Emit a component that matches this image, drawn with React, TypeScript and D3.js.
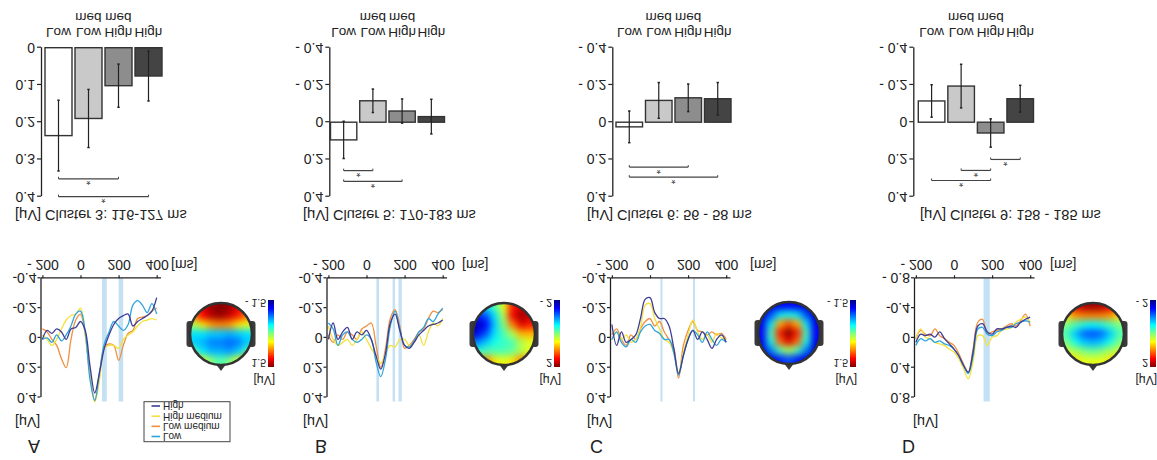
import React, { useEffect, useRef } from 'react';
import * as d3 from 'd3';

const W = 1157;
const H = 460;
const FONT = '"Liberation Sans", Arial, Helvetica, sans-serif';

// conditions, in bar order
const conditions = ['Low', 'Low medium', 'High medium', 'High'];
const barLabelTop = ['Low', 'Low', 'High', 'High'];
const barLabelBottom = ['', 'med', 'med', ''];
const barColors = ['#ffffff', '#c9c9c9', '#8d8d8d', '#444444'];

const panelLetters = ['A', 'B', 'C', 'D'];
const clusterTitles = [
  '[μV] Cluster 3: 116-127 ms',
  '[μV] Cluster 5: 170-183 ms',
  '[μV] Cluster 6: 56 - 58 ms',
  '[μV] Cluster 9: 158 - 185 ms',
];

// bar charts: mean amplitude and error per condition
const barMeansA = [0.236, 0.19, 0.102, 0.076];
const barErrorsA = [0.095, 0.078, 0.058, 0.067];
const barMeansB = [0.095, -0.115, -0.06, -0.03];
const barErrorsB = [0.1, 0.063, 0.065, 0.093];
const barMeansC = [0.025, -0.117, -0.131, -0.126];
const barErrorsC = [0.085, 0.096, 0.074, 0.087];
const barMeansD = [-0.114, -0.194, 0.058, -0.126];
const barErrorsD = [0.087, 0.117, 0.076, 0.072];

// significance brackets (condition index pairs, level in µV)
const sigA = [{ from: 0, to: 2, level: 0.352 }, { from: 0, to: 3, level: 0.4 }];
const sigB = [{ from: 0, to: 1, level: 0.26 }, { from: 0, to: 2, level: 0.318 }];
const sigC = [{ from: 0, to: 2, level: 0.241 }, { from: 0, to: 3, level: 0.295 }];
const sigD = [
  { from: 2, to: 3, level: 0.2 },
  { from: 1, to: 2, level: 0.259 },
  { from: 0, to: 2, level: 0.313 },
];

const barTicksA = [0, 0.1, 0.2, 0.3, 0.4];
const barTickLabelsA = ['0', '0.1', '0.2', '0.3', '0.4'];
const barTicks = [-0.4, -0.2, 0, 0.2, 0.4];
const barTickLabels = ['- 0.4', '- 0.2', '0', '0.2', '0.4'];

// ERP waveforms, sampled every 25 ms
const times = [-200, -175, -150, -125, -100, -75, -50, -25, 0, 25, 50, 75, 100, 125, 150, 175, 200, 225, 250, 275, 300, 325, 350, 375, 400];

const erpA_high = [0.01, -0.05, -0.03, -0.06, -0.04, 0.01, -0.06, -0.07, -0.11, -0.05, 0.19, 0.37, 0.23, 0.07, -0.02, -0.09, -0.13, -0.15, -0.16, -0.08, -0.11, -0.13, -0.15, -0.18, -0.27];
const erpA_highMed = [-0.02, 0.01, 0.05, 0.01, -0.06, -0.12, -0.15, -0.16, -0.2, -0.02, 0.25, 0.43, 0.28, 0.07, 0.05, 0.05, 0.07, 0.01, -0.02, -0.04, -0.08, -0.11, -0.12, -0.13, -0.12];
const erpA_lowMed = [-0.06, -0.04, 0.01, 0.05, 0.14, 0.2, 0.01, -0.12, -0.16, -0.02, 0.25, 0.42, 0.25, 0.06, 0.04, 0.05, 0.15, 0.05, -0.03, -0.05, -0.13, -0.14, -0.15, -0.18, -0.2];
const erpA_low = [0.01, 0, 0.03, -0.02, 0.02, -0.02, -0.08, -0.16, -0.18, -0.04, 0.28, 0.42, 0.23, 0.04, -0.04, -0.11, -0.08, -0.05, -0.09, -0.22, -0.25, -0.22, -0.17, -0.23, -0.16];

const erpB_high = [0.01, -0.1, 0.01, -0.04, -0.07, 0.01, -0.04, -0.02, -0.05, 0.01, 0.12, 0.21, 0.1, -0.1, -0.16, -0.05, 0.05, 0.07, 0.03, -0.02, -0.05, -0.08, -0.09, -0.1, -0.12];
const erpB_highMed = [-0.08, 0.01, 0.05, 0.03, 0.01, 0.05, 0.01, -0.04, 0.01, 0.07, 0.12, 0.17, 0.1, 0.05, 0.06, 0.01, 0.01, 0.05, 0.03, -0.02, 0.05, -0.04, -0.1, -0.08, -0.13];
const erpB_lowMed = [-0.02, 0.03, -0.02, 0.01, -0.04, -0.02, 0.01, -0.06, -0.08, -0.1, 0.05, 0.2, 0.07, -0.13, -0.19, -0.08, 0.07, 0.05, 0.01, -0.04, -0.06, -0.13, -0.18, -0.17, -0.19];
const erpB_low = [-0.1, -0.06, 0.05, -0.02, -0.04, 0.01, 0.03, 0.01, -0.02, 0.01, 0.16, 0.26, 0.14, -0.08, -0.18, -0.06, 0.05, 0.06, 0.02, -0.04, -0.07, -0.13, -0.11, -0.16, -0.2];

const erpC_high = [-0.09, 0.05, -0.04, 0.03, 0.01, -0.02, -0.13, -0.26, -0.27, -0.17, -0.13, -0.13, -0.08, 0.07, 0.24, 0.12, 0.01, -0.05, 0.01, -0.04, 0.01, 0.07, 0.01, -0.02, 0.03];
const erpC_highMed = [0.01, -0.04, 0.01, -0.02, 0.03, 0.01, -0.07, -0.22, -0.23, -0.13, -0.06, 0.01, 0.03, 0.1, 0.23, 0.1, -0.02, -0.12, -0.04, 0.01, -0.02, 0.03, -0.03, 0, 0.01];
const erpC_lowMed = [-0.02, -0.06, 0.01, 0.05, -0.02, 0.01, -0.06, -0.11, -0.13, -0.08, -0.11, -0.04, 0.01, 0.07, 0.27, 0.05, -0.05, -0.11, -0.05, -0.04, -0.02, -0.04, -0.02, -0.03, 0.01];
const erpC_low = [0.01, -0.04, 0.03, 0.06, 0.01, 0.03, -0.04, -0.08, -0.09, -0.05, -0.03, 0.01, 0.01, 0.1, 0.25, 0.12, 0.01, -0.05, -0.02, 0.03, -0.04, 0.01, 0.05, 0.01, 0.03];

const erpD_high = [0.06, -0.05, -0.03, -0.05, -0.01, -0.08, 0.01, 0.08, 0.15, 0.24, 0.37, 0.46, 0.19, -0.16, -0.19, -0.08, -0.05, -0.12, -0.12, -0.14, -0.16, -0.14, -0.21, -0.25, -0.28];
const erpD_highMed = [0.01, -0.12, -0.01, 0.01, 0.06, 0.08, 0.1, 0.15, 0.19, 0.28, 0.41, 0.55, 0.32, -0.03, -0.03, 0.1, -0.01, -0.03, -0.1, -0.12, -0.14, -0.21, -0.25, -0.28, -0.21];
const erpD_lowMed = [0.01, -0.1, -0.05, -0.03, -0.12, -0.03, 0.01, 0.06, 0.1, 0.21, 0.35, 0.46, 0.15, -0.21, -0.25, -0.05, -0.08, -0.1, -0.12, -0.16, -0.19, -0.16, -0.23, -0.32, -0.16];
const erpD_low = [0.1, 0.01, 0.04, 0.01, 0.06, 0.04, 0.08, 0.1, 0.15, 0.24, 0.37, 0.48, 0.24, -0.12, -0.14, -0.05, -0.03, -0.08, -0.1, -0.14, -0.14, -0.19, -0.21, -0.23, -0.21];

// shaded cluster windows (ms)
const bandsA = [[113, 138], [200, 224]];
const bandsB = [[52, 66], [137, 150], [168, 185]];
const bandsC = [[55, 60], [226, 232]];
const bandsD = [[155, 188]];

const erpXTicks = [-200, 0, 200, 400];
const erpXTickLabels = ['- 200', '0', '200', '400'];
const erpYTicks = [-0.4, -0.2, 0, 0.2, 0.4];
const erpYTickLabels = ['-0.4', '-0.2', '0', '0.2', '0.4'];
const erpYTicksD = [-0.8, -0.4, 0, 0.4, 0.8];
const erpYTickLabelsD = ['- 0.8', '-0.4', '0', '0.4', '0.8'];

// legend names, same order as the ERP series
const legendNames = ['High', 'High medium', 'Low medium', 'Low'];
const traceColors = ['#3d3d96', '#f3e23c', '#f0903f', '#2ea4dc'];

// scalp maps: 7x7 grids, colour-bar units (-1..1), rows listed chin side first
const topoA = [
  [0.6, 0.8, 0.95, 1.0, 0.95, 0.8, 0.6],
  [0.5, 0.75, 0.9, 0.95, 0.85, 0.7, 0.5],
  [0.1, 0.3, 0.45, 0.5, 0.45, 0.3, 0.2],
  [-0.3, -0.3, -0.35, -0.35, -0.4, -0.35, -0.3],
  [-0.35, -0.4, -0.5, -0.5, -0.55, -0.5, -0.35],
  [-0.1, -0.3, -0.4, -0.4, -0.45, -0.35, -0.1],
  [0.5, 0.2, 0.0, -0.1, 0.0, 0.2, 0.5],
];
const topoB = [
  [-0.4, -0.3, -0.1, 0.2, 0.7, 0.85, 0.8],
  [-0.7, -0.6, -0.3, 0.1, 0.75, 0.95, 0.85],
  [-0.9, -0.75, -0.35, 0.0, 0.5, 0.8, 0.7],
  [-0.8, -0.6, -0.3, -0.1, 0.1, 0.4, 0.4],
  [-0.5, -0.35, -0.2, -0.15, -0.1, 0.1, 0.2],
  [-0.2, -0.1, -0.1, -0.1, -0.05, 0.1, 0.2],
  [0.3, 0.5, 0.3, 0.2, 0.3, 0.5, 0.4],
];
const topoC = [
  [-0.9, -0.85, -0.8, -0.75, -0.8, -0.85, -0.9],
  [-0.85, -0.6, -0.3, -0.2, -0.3, -0.6, -0.85],
  [-0.8, -0.3, 0.4, 0.6, 0.4, -0.3, -0.8],
  [-0.75, -0.1, 0.7, 1.0, 0.7, -0.1, -0.75],
  [-0.8, -0.2, 0.55, 0.8, 0.55, -0.2, -0.8],
  [-0.85, -0.5, -0.1, 0.1, -0.1, -0.5, -0.85],
  [-0.9, -0.85, -0.7, -0.6, -0.7, -0.85, -0.9],
];
const topoD = [
  [0.6, 0.8, 0.9, 0.95, 0.9, 0.8, 0.6],
  [0.3, 0.45, 0.5, 0.5, 0.5, 0.45, 0.3],
  [0.0, -0.1, -0.2, -0.25, -0.2, -0.1, 0.0],
  [-0.1, -0.35, -0.55, -0.6, -0.55, -0.35, -0.1],
  [0.0, -0.2, -0.35, -0.4, -0.35, -0.2, 0.0],
  [0.15, 0.1, 0.0, -0.05, 0.0, 0.1, 0.15],
  [0.4, 0.3, 0.2, 0.2, 0.2, 0.3, 0.4],
];
const colorbarLabels = [['- 1.5', '1.5'], ['- 2', '2'], ['- 1.5', '1.5'], ['- 2', '2']];

const panels = [
  { means: barMeansA, errors: barErrorsA, sig: sigA, bt: barTicksA, btl: barTickLabelsA, bdom: [0, 0.4],
    erp: [erpA_high, erpA_highMed, erpA_lowMed, erpA_low], bands: bandsA, yt: erpYTicks, ytl: erpYTickLabels, edom: [-0.4, 0.4], topo: topoA },
  { means: barMeansB, errors: barErrorsB, sig: sigB, bt: barTicks, btl: barTickLabels, bdom: [-0.4, 0.4],
    erp: [erpB_high, erpB_highMed, erpB_lowMed, erpB_low], bands: bandsB, yt: erpYTicks, ytl: erpYTickLabels, edom: [-0.4, 0.4], topo: topoB },
  { means: barMeansC, errors: barErrorsC, sig: sigC, bt: barTicks, btl: barTickLabels, bdom: [-0.4, 0.4],
    erp: [erpC_high, erpC_highMed, erpC_lowMed, erpC_low], bands: bandsC, yt: erpYTicks, ytl: erpYTickLabels, edom: [-0.4, 0.4], topo: topoC },
  { means: barMeansD, errors: barErrorsD, sig: sigD, bt: barTicks, btl: barTickLabels, bdom: [-0.4, 0.4],
    erp: [erpD_high, erpD_highMed, erpD_lowMed, erpD_low], bands: bandsD, yt: erpYTicksD, ytl: erpYTickLabelsD, edom: [-0.8, 0.8], topo: topoD },
];

// layout (the whole figure is drawn upright, then mirrored vertically)
const layout = [
  { barAxisX: 41, barX0: 45, barX1: 162, titleX: 15, erpX0: 40.5, msX: 171, uvX: 15, letterX: 28, topoX: 221, topoY: 126, cbarX: 268 },
  { barAxisX: 329.3, barX0: 330.5, barX1: 444.5, titleX: 303, erpX0: 326.5, msX: 462, uvX: 303, letterX: 315, topoX: 504, topoY: 126, cbarX: 554 },
  { barAxisX: 612.3, barX0: 616, barX1: 731, titleX: 587, erpX0: 610, msX: 750, uvX: 587, letterX: 590, topoX: 789, topoY: 127, cbarX: 850 },
  { barAxisX: 913.3, barX0: 918.3, barX1: 1033.5, titleX: 920, erpX0: 914, msX: 1050, uvX: 913, letterX: 902, topoX: 1093, topoY: 126, cbarX: 1150 },
];

const App = () => {
  const svgRef = useRef<SVGSVGElement>(null);

  useEffect(() => {
    document.body.style.margin = '0';
    const svg = d3.select(svgRef.current);
    svg.selectAll('*').remove();
    const defs = svg.append('defs');

    const root = svg.append('g')
      .attr('transform', `translate(0,${H}) scale(1,-1)`)
      .style('font-family', FONT);

    const jet = d3.scaleLinear<string>()
      .domain([-1, -0.75, -0.25, 0.25, 0.75, 1])
      .range(['#00007f', '#0000ff', '#00ffff', '#ffff00', '#ff0000', '#7f0000'])
      .clamp(true);

    const smooth = defs.append('filter').attr('id', 'smooth')
      .attr('x', '-20%').attr('y', '-20%').attr('width', '140%').attr('height', '140%')
      .attr('color-interpolation-filters', 'sRGB');
    smooth.append('feGaussianBlur').attr('stdDeviation', 3.8);
    smooth.append('feComponentTransfer').append('feFuncA').attr('type', 'table').attr('tableValues', '1 1');

    const cbarGrad = defs.append('linearGradient').attr('id', 'jetbar')
      .attr('x1', 0).attr('y1', 1).attr('x2', 0).attr('y2', 0);
    d3.range(-1, 1.001, 0.125).forEach(v => {
      cbarGrad.append('stop').attr('offset', (v + 1) / 2).attr('stop-color', jet(v));
    });

    const styleAxis = (g: any, size: number) => {
      g.attr('font-family', FONT);
      g.select('.domain').attr('stroke', '#222').attr('stroke-width', 1.3);
      g.selectAll('.tick line').attr('stroke', '#222').attr('stroke-width', 1.2);
      g.selectAll('.tick text').attr('fill', '#222').style('font-size', `${size}px`);
    };

    panels.forEach((p, i) => {
      const L = layout[i];

      // ---------- bar chart ----------
      const y = d3.scaleLinear().domain(p.bdom).range([412.3, 263.3]);
      const x = d3.scaleBand<number>().domain([0, 1, 2, 3]).range([L.barX0, L.barX1]).paddingInner(0.1);
      const bars = root.append('g');

      bars.append('g')
        .attr('transform', `translate(${L.barAxisX},0)`)
        .call(d3.axisLeft(y).tickValues(p.bt).tickFormat((d, k) => p.btl[k]).tickSize(4).tickSizeOuter(0).tickPadding(2))
        .call(g => styleAxis(g, 14));

      bars.selectAll('rect.bar')
        .data(p.means)
        .enter().append('rect')
        .attr('class', 'bar')
        .attr('x', (d, k) => x(k)!)
        .attr('y', d => Math.min(y(0), y(d)))
        .attr('width', x.bandwidth())
        .attr('height', d => Math.abs(y(d) - y(0)))
        .attr('fill', (d, k) => barColors[k])
        .attr('stroke', '#333')
        .attr('stroke-width', 1.4);

      const cx = (k: number) => x(k)! + x.bandwidth() / 2;
      p.means.forEach((m, k) => {
        const e = p.errors[k];
        bars.append('line').attr('x1', cx(k)).attr('x2', cx(k))
          .attr('y1', y(m - e)).attr('y2', y(m + e))
          .attr('stroke', '#222').attr('stroke-width', 1.2);
        [m - e, m + e].forEach(v => {
          bars.append('line').attr('x1', cx(k) - 1.2).attr('x2', cx(k) + 1.2)
            .attr('y1', y(v)).attr('y2', y(v)).attr('stroke', '#222').attr('stroke-width', 1.5);
        });
      });

      p.sig.forEach(s => {
        const yy = y(s.level);
        bars.append('line').attr('x1', cx(s.from)).attr('x2', cx(s.to))
          .attr('y1', yy).attr('y2', yy).attr('stroke', '#444').attr('stroke-width', 1.2);
        [s.from, s.to].forEach(k => {
          bars.append('line').attr('x1', cx(k)).attr('x2', cx(k))
            .attr('y1', yy).attr('y2', yy + 2).attr('stroke', '#444').attr('stroke-width', 1);
        });
        bars.append('text').attr('x', (cx(s.from) + cx(s.to)) / 2).attr('y', yy + 1.5)
          .attr('text-anchor', 'middle').style('font-size', '11px').attr('fill', '#444').text('*');
      });

      // category labels
      conditions.forEach((c, k) => {
        bars.append('text').attr('x', cx(k)).attr('y', 432).attr('text-anchor', 'middle')
          .style('font-size', '13.5px').attr('fill', '#222').text(barLabelTop[k]);
        if (barLabelBottom[k]) {
          bars.append('text').attr('x', cx(k)).attr('y', 447).attr('text-anchor', 'middle')
            .style('font-size', '13.5px').attr('fill', '#222').text(barLabelBottom[k]);
        }
      });

      bars.append('text').attr('x', L.titleX).attr('y', 250)
        .style('font-size', '14.5px').attr('fill', '#222').text(clusterTitles[i]);

      // ---------- ERP ----------
      const ex = d3.scaleLinear().domain([-210, 420]).range([L.erpX0, L.erpX0 + 120]);
      const ey = d3.scaleLinear().domain(p.edom).range([181.7, 62.5]);
      const erp = root.append('g');

      erp.selectAll('rect.band')
        .data(p.bands)
        .enter().append('rect')
        .attr('class', 'band')
        .attr('x', d => ex(d[0]))
        .attr('width', d => Math.max(2, ex(d[1]) - ex(d[0])))
        .attr('y', ey(p.edom[1]) - 4)
        .attr('height', ey(p.edom[0]) - ey(p.edom[1]) + 4)
        .attr('fill', '#c4e1f4');

      const line = d3.line<number>()
        .x((d, k) => ex(times[k]))
        .y(d => ey(d))
        .curve(d3.curveCatmullRom);

      [2, 1, 3, 0].forEach(k => {
        erp.append('path').attr('d', line(p.erp[k]))
          .attr('fill', 'none').attr('stroke', traceColors[k]).attr('stroke-width', 1.3);
      });

      erp.append('g')
        .attr('transform', `translate(0,${ey(p.edom[0])})`)
        .call(d3.axisBottom(ex).tickValues(erpXTicks).tickFormat((d, k) => erpXTickLabels[k]).tickSize(3).tickSizeOuter(0).tickPadding(5))
        .call(g => styleAxis(g, 14));
      erp.append('g')
        .attr('transform', `translate(${L.erpX0},0)`)
        .call(d3.axisLeft(ey).tickValues(p.yt).tickFormat((d, k) => p.ytl[k]).tickSize(3).tickSizeOuter(0).tickPadding(1))
        .call(g => styleAxis(g, 14));

      erp.append('text').attr('x', L.msX).attr('y', 200).style('font-size', '14px').attr('fill', '#222').text('[ms]');
      erp.append('text').attr('x', L.uvX).attr('y', 43).style('font-size', '14px').attr('fill', '#222').text('[μV]');
      erp.append('text').attr('x', L.letterX).attr('y', 20).style('font-size', '18px').attr('fill', '#222').text(panelLetters[i]);

      // ---------- scalp map ----------
      const r = 31;
      const tx = L.topoX;
      const ty = L.topoY;
      const topo = root.append('g');
      defs.append('clipPath').attr('id', `head${i}`)
        .append('circle').attr('cx', tx).attr('cy', ty).attr('r', r);

      // ears and nose
      [-1, 1].forEach(sd => {
        topo.append('rect').attr('x', tx + sd * r - 3.5).attr('y', ty - 13).attr('width', 7).attr('height', 26)
          .attr('rx', 3).attr('fill', '#3a3a3a');
      });
      topo.append('path')
        .attr('d', `M${tx - 6},${ty - r + 2} L${tx + 6},${ty - r + 2} L${tx},${ty - r - 6} Z`)
        .attr('fill', '#3a3a3a');

      const n = p.topo.length;
      const gx = d3.scaleLinear().domain([0, n]).range([tx - r, tx + r]);
      const gy = d3.scaleLinear().domain([0, n]).range([ty + r, ty - r]);
      const field = topo.append('g').attr('clip-path', `url(#head${i})`)
        .append('g').attr('filter', 'url(#smooth)');
      p.topo.forEach((row, ri) => {
        row.forEach((v, ci) => {
          field.append('rect')
            .attr('x', gx(ci) - 0.5).attr('y', gy(ri + 1) - 0.5)
            .attr('width', gx(ci + 1) - gx(ci) + 1).attr('height', gy(ri) - gy(ri + 1) + 1)
            .attr('fill', jet(v));
        });
      });
      topo.append('circle').attr('cx', tx).attr('cy', ty).attr('r', r)
        .attr('fill', 'none').attr('stroke', '#333').attr('stroke-width', 2.6);

      // colour bar
      topo.append('rect').attr('x', L.cbarX).attr('y', 93).attr('width', 6).attr('height', 67)
        .attr('fill', 'url(#jetbar)');
      topo.append('text').attr('x', L.cbarX - 2).attr('y', 161).attr('text-anchor', 'end')
        .style('font-size', '10.5px').attr('fill', '#222').text(colorbarLabels[i][0]);
      topo.append('text').attr('x', L.cbarX - 2).attr('y', 101).attr('text-anchor', 'end')
        .style('font-size', '10.5px').attr('fill', '#222').text(colorbarLabels[i][1]);
      topo.append('text').attr('x', L.cbarX + 7).attr('y', 84).attr('text-anchor', 'end')
        .style('font-size', '12px').attr('fill', '#222').text('[μV]');
    });

    // legend (panel A)
    const leg = root.append('g');
    leg.append('rect').attr('x', 144).attr('y', 18.3).attr('width', 86).attr('height', 40)
      .attr('fill', '#fff').attr('stroke', '#444').attr('stroke-width', 1);
    const ly = d3.scaleLinear().domain([0, 3]).range([54, 23.5]);
    legendNames.forEach((name, k) => {
      leg.append('line').attr('x1', 151.5).attr('x2', 160).attr('y1', ly(k)).attr('y2', ly(k))
        .attr('stroke', traceColors[k]).attr('stroke-width', 1.6);
      leg.append('text').attr('x', 163).attr('y', ly(k) + 3.6).style('font-size', '10px')
        .attr('fill', '#222').text(name);
    });
  }, []);

  return (
    <svg ref={svgRef} width={W} height={H} style={{ display: 'block', background: '#fff' }}></svg>
  );
};

export default App;
